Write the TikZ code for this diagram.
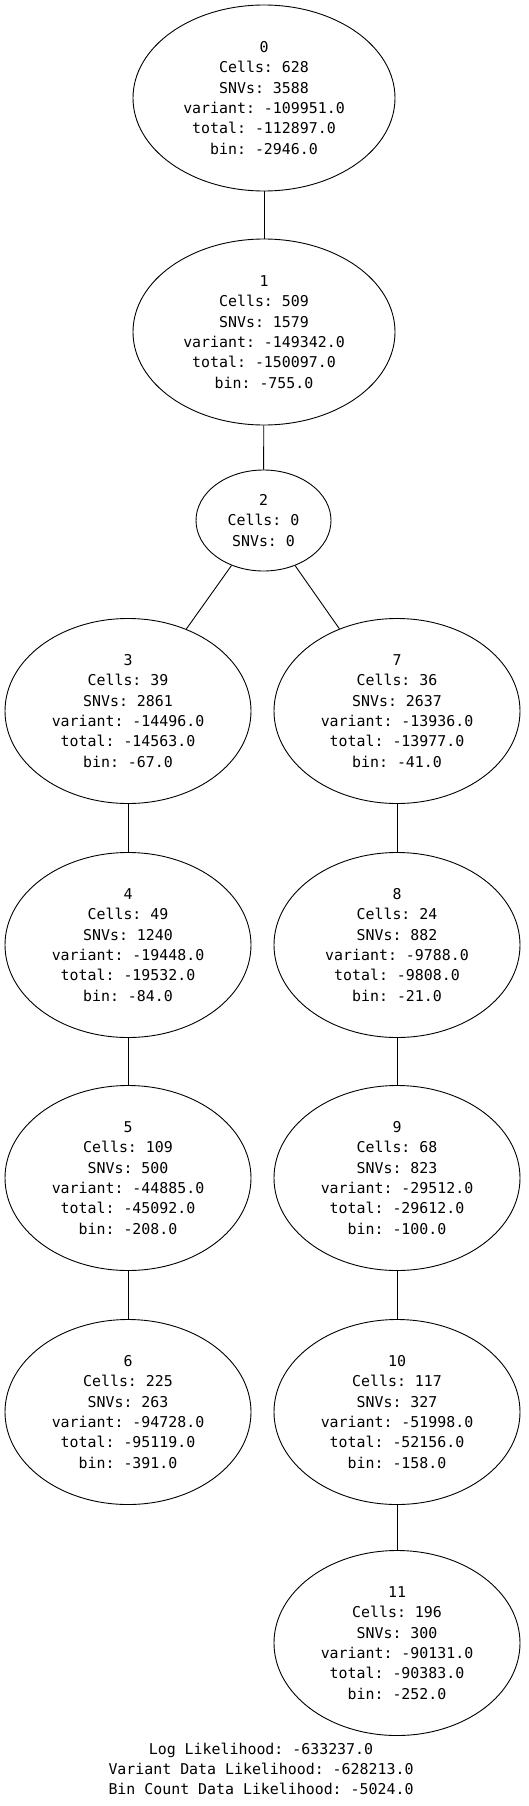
\documentclass[tikz,border=0pt]{standalone}
\usepackage{fontspec}
\setmonofont{DejaVu Sans Mono}
\usepackage{tikz}
\usetikzlibrary{shapes.geometric}

\begin{document}
\begin{tikzpicture}[x=1pt, y=-1pt,
    font=\ttfamily\fontsize{14.9}{20.3}\selectfont,
    clone/.style={draw, ellipse, line width=0.9pt, inner sep=0pt, align=center,
      minimum width=246pt, minimum height=185pt},
    wideclone/.style={clone, minimum width=262pt, minimum height=186pt},
    emptyclone/.style={clone, minimum width=135pt, minimum height=101pt},
    branch/.style={line width=0.9pt}]
  \useasboundingbox (0,0) rectangle (528,1806);
  % trunk
  \node[wideclone] (n0) at (264,98) {0\\Cells: 628\\SNVs: 3588\\variant: -109951.0\\total: -112897.0\\bin: -2946.0};
  \node[wideclone] (n1) at (264,332) {1\\Cells: 509\\SNVs: 1579\\variant: -149342.0\\total: -150097.0\\bin: -755.0};
  \node[emptyclone] (n2) at (263.5,520.5) {2\\Cells: 0\\SNVs: 0};
  % left branch
  \node[clone] (n3) at (128,711) {3\\Cells: 39\\SNVs: 2861\\variant: -14496.0\\total: -14563.0\\bin: -67.0};
  \node[clone] (n4) at (128,945) {4\\Cells: 49\\SNVs: 1240\\variant: -19448.0\\total: -19532.0\\bin: -84.0};
  \node[clone] (n5) at (128,1178) {5\\Cells: 109\\SNVs: 500\\variant: -44885.0\\total: -45092.0\\bin: -208.0};
  \node[clone] (n6) at (128,1412) {6\\Cells: 225\\SNVs: 263\\variant: -94728.0\\total: -95119.0\\bin: -391.0};
  % right branch
  \node[clone] (n7) at (397,711) {7\\Cells: 36\\SNVs: 2637\\variant: -13936.0\\total: -13977.0\\bin: -41.0};
  \node[clone] (n8) at (397,945) {8\\Cells: 24\\SNVs: 882\\variant: -9788.0\\total: -9808.0\\bin: -21.0};
  \node[clone] (n9) at (397,1178) {9\\Cells: 68\\SNVs: 823\\variant: -29512.0\\total: -29612.0\\bin: -100.0};
  \node[clone] (n10) at (397,1412) {10\\Cells: 117\\SNVs: 327\\variant: -51998.0\\total: -52156.0\\bin: -158.0};
  \node[clone] (n11) at (397,1643) {11\\Cells: 196\\SNVs: 300\\variant: -90131.0\\total: -90383.0\\bin: -252.0};
  % edges
  \draw[branch] (n0) -- (n1);
  \draw[branch] (n1) -- (n2);
  \draw[branch] (n2) -- (n3);
  \draw[branch] (n2) -- (n7);
  \draw[branch] (n3) -- (n4);
  \draw[branch] (n4) -- (n5);
  \draw[branch] (n5) -- (n6);
  \draw[branch] (n7) -- (n8);
  \draw[branch] (n8) -- (n9);
  \draw[branch] (n9) -- (n10);
  \draw[branch] (n10) -- (n11);
  % likelihood summary
  \node[align=center] (summary) at (261,1769) {Log Likelihood: -633237.0\\Variant Data Likelihood: -628213.0\\Bin Count Data Likelihood: -5024.0};
\end{tikzpicture}
\end{document}
